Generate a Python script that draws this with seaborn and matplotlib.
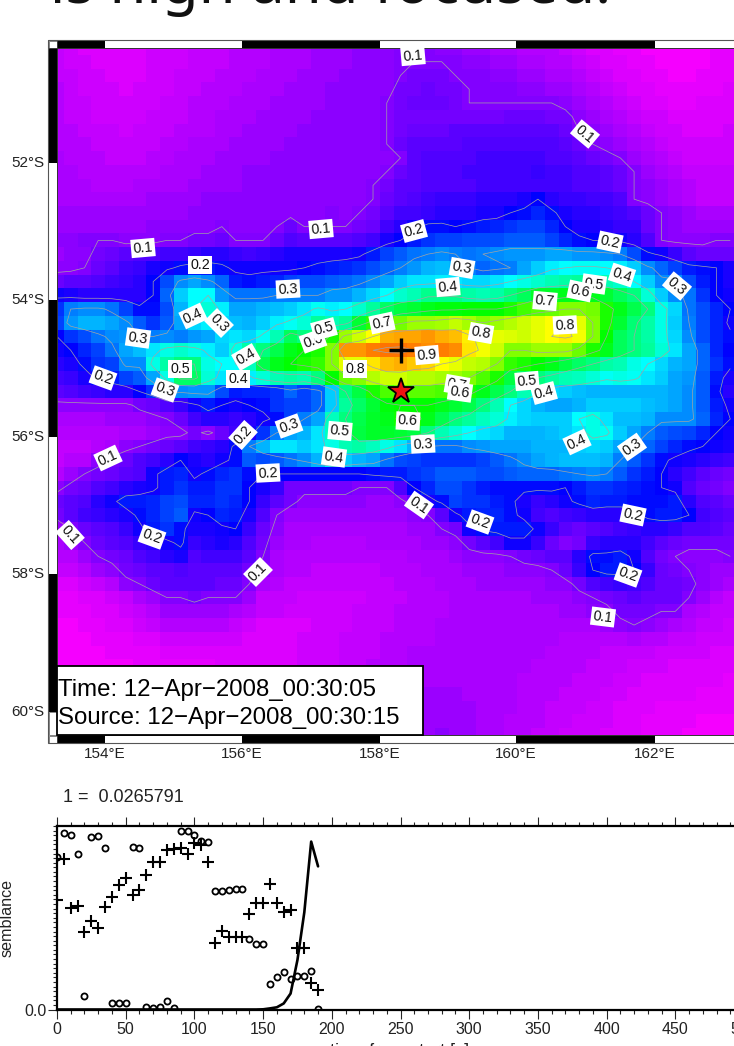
import numpy as np
import matplotlib
matplotlib.use("Agg")
import matplotlib.pyplot as plt
from matplotlib.colors import LinearSegmentedColormap
from matplotlib.patches import Rectangle
from matplotlib.ticker import MultipleLocator
import seaborn as sns

# semblance map, hundredths, one row per 0.2 degrees of latitude (north to south)
r00=[5,4,3,3,3,3,3,4,4,4, 5,5,5,6,6,6,7,7,7,8, 8,8,9,9,9,10,10,10,9,9, 8,8,7,7,6,6,6,5,4,3, 3,2,2,1,1,1,1,1,2,2]
r01=[5,4,4,3,3,3,3,4,4,4, 5,5,5,6,6,6,7,7,7,8, 8,8,9,9,9,10,10,10,10,10, 9,9,8,8,7,7,6,6,5,4, 3,3,2,2,1,1,1,1,2,2]
r02=[5,5,4,4,3,3,3,4,4,5, 5,5,6,6,6,7,7,7,8,8, 8,9,9,9,9,10,11,11,11,10, 10,10,9,9,8,8,7,7,6,5, 4,3,3,2,2,1,1,2,2,2]
r03=[6,5,4,4,4,3,4,4,4,5, 5,6,6,6,7,7,7,8,8,8, 9,9,9,9,9,11,11,12,11,11, 10,10,10,10,9,9,8,8,7,6, 5,4,3,3,2,2,2,2,2,3]
r04=[6,5,5,4,4,4,4,4,5,5, 6,6,6,7,7,7,8,8,8,8, 9,9,9,9,10,11,12,12,12,11, 10,10,10,10,10,10,10,9,8,7, 6,5,4,3,3,2,2,3,3,3]
r05=[6,5,5,4,4,4,4,5,5,5, 6,6,7,7,7,8,8,8,8,9, 9,9,9,9,10,11,11,11,11,11, 11,11,11,12,12,12,11,11,9,8, 7,6,5,4,4,3,3,3,3,3]
r06=[6,6,5,5,5,4,5,5,5,6, 6,6,7,7,8,8,8,8,9,9, 9,9,9,9,10,11,12,12,12,13, 13,13,13,13,13,13,13,12,10,9, 8,7,6,5,4,4,3,3,3,4]
r07=[6,6,6,5,5,5,5,5,6,6, 7,7,7,8,8,8,8,9,9,9, 9,9,9,9,10,12,13,13,13,13, 14,14,14,14,14,14,14,13,12,10, 9,8,7,6,5,4,4,4,4,4]
r08=[7,6,6,6,5,5,5,6,6,7, 7,7,8,8,8,8,9,9,9,9, 9,9,9,9,9,10,13,14,14,14, 14,15,15,15,15,15,14,14,13,12, 11,10,8,7,6,5,4,4,4,4]
r09=[7,7,6,6,6,6,6,6,7,7, 7,8,8,8,9,9,9,9,9,9, 9,9,9,9,10,12,13,14,14,14, 15,15,15,15,15,16,15,15,14,14, 13,12,10,8,7,6,5,5,5,5]
r10=[7,7,7,6,6,6,7,7,7,7, 8,8,8,8,9,9,9,9,9,9, 9,9,9,10,11,13,13,14,14,14, 14,15,15,15,15,15,15,15,14,14, 13,12,10,9,8,7,6,5,5,5]
r11=[7,7,7,7,7,7,7,8,8,8, 8,9,9,9,9,9,9,9,9,9, 9,9,9,10,12,13,14,15,16,16, 16,17,17,17,18,20,17,16,16,15, 15,14,10,9,8,7,6,5,5,5]
r12=[8,8,8,8,8,8,8,8,8,8, 9,9,9,9,9,9,9,9,9,9, 10,9,10,11,13,15,15,16,17,17, 17,18,18,20,21,23,21,18,17,17, 16,15,14,12,10,9,8,7,7,7]
r13=[8,8,8,8,8,8,8,9,9,9, 9,9,10,9,9,9,10,12,10,10, 10,10,11,12,15,17,19,21,21,20, 21,22,23,24,25,25,23,20,18,18, 17,16,16,12,10,9,8,8,8,8]
r14=[9,9,10,10,10,9,9,9,10,10, 11,11,12,10,10,10,12,14,13,13, 13,13,14,15,18,20,22,24,25,25, 26,26,26,27,27,27,25,23,21,20, 20,19,17,14,10,9,9,9,10,10]
r15=[8,9,9,11,12,13,14,14,15,15, 16,17,17,16,15,16,17,18,18,18, 18,18,19,22,25,27,29,30,31,30, 29,30,31,32,32,32,33,33,32,32, 31,30,26,21,19,16,13,12,12,12]
r16=[9,9,10,12,13,15,16,18,19,21, 22,22,21,19,19,19,19,19,20,21, 22,23,24,26,28,30,32,34,35,34, 30,28,29,30,33,36,39,40,41,41, 40,39,36,31,28,25,22,21,20,18]
r17=[12,13,13,14,15,16,17,20,26,31, 33,31,28,22,21,22,23,25,26,26, 27,28,29,31,33,36,38,38,39,38, 37,37,38,40,42,44,46,47,48,47, 46,44,40,36,31,31,26,22,20,18]
r18=[19,18,17,17,17,17,17,20,28,36, 40,40,32,29,29,29,30,30,30,30, 32,32,34,37,40,44,46,49,49,49, 47,46,47,50,53,57,57,58,58,58, 56,53,50,43,36,31,29,24,20,19]
r19=[24,30,31,31,29,25,21,21,26,34, 40,43,39,33,33,34,35,36,38,41, 39,40,44,48,52,55,56,58,59,59, 60,60,60,62,65,67,68,70,70,69, 62,58,54,50,42,37,29,26,23,20]
r20=[25,32,34,34,33,31,27,24,27,33, 37,39,37,35,34,36,39,41,43,48, 46,48,56,63,65,69,72,72,73,75, 73,70,72,74,76,78,80,80,78,70, 62,56,51,47,42,36,30,26,23,19]
r21=[20,24,26,29,31,32,30,30,31,30, 32,33,37,38,37,41,46,53,50,52, 62,72,76,80,86,87,87,88,86,85, 81,78,78,77,76,78,80,81,79,70, 60,53,50,47,42,37,31,26,23,21]
r22=[19,20,23,25,29,33,35,38,42,44, 42,39,36,42,47,50,54,58,60,62, 70,88,88,90,91,91,90,89,90,89, 82,79,76,70,70,72,72,72,68,62, 58,53,50,48,43,38,33,28,23,20]
r23=[17,18,21,24,25,31,31,42,47,50, 50,42,40,40,45,54,58,60,62,64, 70,78,78,82,85,86,84,83,80,78, 75,74,70,64,62,60,58,55,52,50, 47,46,42,40,37,34,33,28,24,21]
r24=[15,16,18,21,22,25,27,33,42,52, 52,43,38,39,39,43,46,47,46,50, 60,68,70,74,76,76,74,74,73,72, 70,66,62,55,52,50,48,46,45,43, 41,42,41,38,36,33,32,27,22,18]
r25=[13,14,15,16,17,17,20,24,33,31, 32,32,26,22,23,23,24,28,25,28, 36,50,55,62,66,68,67,67,66,65, 62,58,54,50,46,41,37,36,35,34, 34,34,34,34,34,33,31,27,21,17]
r26=[9,9,9,9,9,9,11,12,14,16, 19,22,20,19,20,21,24,25,25,28, 36,48,52,56,59,60,60,60,58,56, 54,50,46,40,37,34,33,33,34,36, 36,36,36,35,34,33,31,27,22,19]
r27=[7,7,7,7,8,8,8,9,10,12, 15,17,17,16,17,19,21,25,30,33, 45,50,54,57,58,61,62,58,54,50, 48,45,43,39,37,36,36,36,40,42, 38,35,35,34,31,31,31,28,23,20]
r28=[6,6,6,6,6,7,7,8,9,9, 11,9,12,15,18,24,30,33,34,38, 45,48,55,57,57,56,55,50,46,43, 40,38,37,34,34,34,35,36,38,42, 41,36,33,30,27,26,25,23,20,19]
r29=[5,5,5,6,7,9,10,11,12,13, 15,16,17,21,30,34,38,38,36,38, 42,46,47,45,42,38,34,30,29,29, 31,32,33,33,33,34,34,34,36,37, 36,33,30,28,25,23,21,20,19,18]
r30=[5,6,6,9,11,12,14,15,17,20, 18,17,19,21,27,26,27,29,31,34, 38,36,34,33,29,26,25,24,24,24, 24,25,27,29,31,33,34,35,35,35, 34,30,27,24,21,19,18,17,16,15]
r31=[6,8,10,11,12,13,14,19,22,23, 19,21,23,24,21,20,20,20,20,20, 20,20,20,21,22,22,24,25,27,27, 27,26,26,27,28,28,28,29,30,31, 30,27,24,22,20,17,15,13,12,11]
r32=[9,11,12,14,15,17,18,19,22,24, 22,22,24,24,20,18,16,11,11,11, 11,11,10,10,10,14,20,23,26,26, 24,22,21,21,21,21,21,20,22,24, 24,23,22,21,20,19,14,12,11,10]
r33=[12,13,14,17,19,22,22,23,25,26, 23,23,24,23,20,16,13,11,9,9, 9,9,9,8,8,9,12,18,21,25, 24,24,22,21,18,16,17,19,21,23, 22,22,21,21,21,22,17,14,13,12]
r34=[11,13,15,16,17,18,21,23,25,27, 19,20,23,22,18,14,10,8,8,8, 8,8,8,8,8,8,9,10,13,19, 22,23,23,21,19,15,14,15,16,17, 17,17,19,21,22,22,20,15,14,13]
r35=[8,10,12,13,14,16,19,22,24,21, 18,18,19,20,16,12,9,7,7,7, 7,7,7,7,7,7,8,8,10,11, 19,21,22,22,22,19,16,13,12,13, 14,15,16,17,17,16,14,14,13,12]
r36=[7,8,10,12,13,14,16,17,19,21, 16,17,18,17,14,11,8,7,7,6, 6,6,6,7,7,7,7,8,8,9, 11,13,15,19,19,16,12,10,11,16, 17,17,17,15,13,12,11,11,11,11]
r37=[6,6,8,10,11,12,14,15,17,18, 14,15,15,15,13,10,7,6,6,6, 6,6,6,6,6,6,7,7,7,8, 9,9,9,10,11,12,13,13,17,21, 21,22,19,14,11,10,9,9,9,10]
r38=[5,5,6,8,9,11,12,13,13,14, 13,13,13,13,11,9,7,6,6,5, 5,5,5,5,6,6,6,7,7,7, 8,8,8,9,9,9,10,12,16,20, 22,22,20,16,12,11,10,9,8,8]
r39=[3,3,4,5,6,9,10,12,13,13, 13,13,12,12,10,7,6,5,5,5, 5,5,5,5,5,6,6,6,7,7, 7,8,8,8,8,8,9,9,11,14, 15,16,15,14,12,12,11,9,8,7]
r40=[2,2,3,3,4,5,7,8,10,10, 11,10,10,10,8,5,5,5,4,4, 4,4,4,5,5,5,6,6,6,7, 7,7,7,7,7,8,8,8,9,10, 11,12,13,12,12,12,10,8,6,5]
r41=[2,2,2,3,3,4,5,6,8,8, 8,8,8,7,6,5,5,4,4,4, 4,4,5,5,5,6,6,6,6,7, 7,7,7,7,7,7,7,8,8,9, 9,11,11,11,10,10,7,6,5,5]
r42=[1,1,2,2,3,3,4,5,6,6, 6,6,6,5,4,3,3,3,3,4, 4,4,5,5,5,6,6,6,7,7, 7,7,7,7,7,7,7,7,7,7, 8,9,10,9,8,7,6,5,5,4]
r43=[1,1,1,2,2,2,3,3,4,4, 4,4,4,4,3,3,3,3,4,4, 4,5,5,5,6,6,6,6,7,7, 7,7,7,7,7,7,7,6,6,6, 6,6,7,6,6,5,5,4,4,4]
r44=[1,1,1,1,2,2,2,2,3,3, 3,3,3,3,3,3,3,3,4,4, 4,5,5,5,6,6,7,7,7,7, 7,7,7,7,7,7,6,6,6,6, 5,5,5,5,4,4,4,4,3,3]
r45=[1,1,1,1,1,1,2,2,2,2, 2,2,3,3,3,3,3,3,4,4, 4,5,5,6,6,6,7,7,7,7, 7,7,7,7,7,6,6,6,6,5, 5,5,4,4,4,3,3,3,3,3]
r46=[1,1,1,1,1,1,1,2,2,2, 2,2,3,3,3,3,3,4,4,4, 5,5,6,6,6,7,7,7,7,7, 7,7,7,7,6,6,6,6,5,5, 5,4,4,3,3,3,3,3,3,2]
r47=[1,1,1,1,1,1,1,2,2,2, 2,2,3,3,3,3,4,4,4,5, 5,5,6,6,7,7,7,8,8,8, 7,7,7,7,6,6,6,5,5,5, 4,4,3,3,3,3,3,2,2,2]
r48=[1,1,1,1,1,1,2,2,2,2, 2,3,3,3,3,4,4,4,5,5, 5,6,6,7,7,7,8,8,8,8, 8,7,7,7,6,6,5,5,5,4, 4,3,3,3,2,2,2,2,2,2]
r49=[1,1,1,1,1,2,2,2,2,2, 3,3,3,3,4,4,4,5,5,5, 6,6,6,7,7,8,8,8,8,8, 8,7,7,6,6,6,5,5,4,4, 4,3,3,2,2,2,2,1,1,1]
r50=[1,1,1,2,2,2,2,2,2,3, 3,3,3,4,4,4,5,5,5,6, 6,6,7,7,7,8,8,8,9,8, 8,7,7,6,6,5,5,4,4,4, 3,3,3,2,2,2,1,1,1,1]
semblance_rows = [r00,r01,r02,r03,r04,r05,r06,r07,r08,r09,r10,r11,r12,r13,r14,r15,r16,r17,r18,r19,
                  r20,r21,r22,r23,r24,r25,r26,r27,r28,r29,r30,r31,r32,r33,r34,r35,r36,r37,r38,r39,
                  r40,r41,r42,r43,r44,r45,r46,r47,r48,r49,r50]

contour_levels = [0.1,0.2,0.3,0.4,0.5,0.6,0.7,0.8,0.9]
lon_ticks = ["154°E","156°E","158°E","160°E","162°E"]
lat_ticks = ["52°S","54°S","56°S","58°S","60°S"]
cross_lonlat = (158.31,-54.73)
star_lonlat = (158.31,-55.32)

# contour labels: text, x pixel, y pixel, angle
contour_labels = [
("0.1",413,56,5),("0.1",585,134,-40),("0.1",143,248,5),("0.1",321,229,5),("0.2",414,231,15),
("0.2",610,242,-12),("0.2",200,265,0),("0.3",462,268,-10),("0.4",622,275,-18),("0.3",677,286,-40),
("0.3",288,289,3),("0.5",594,284,-8),("0.6",580,291,-12),("0.4",448,287,5),("0.7",545,301,-5),
("0.4",193,316,25),("0.3",219,323,-45),("0.6",313,341,20),("0.5",324,329,15),("0.7",382,323,12),
("0.8",481,333,-10),("0.8",565,325,3),("0.3",138,338,-8),("0.9",427,355,5),("0.4",246,357,30),
("0.8",355,369,0),("0.5",180,369,0),("0.4",238,379,0),("0.2",103,378,-20),("0.3",165,390,-20),
("0.5",527,381,5),("0.4",544,393,15),("0.7",457,385,-10),("0.6",460,392,-8),("0.6",408,421,-3),
("0.3",423,444,3),("0.5",340,431,-5),("0.4",334,457,-8),("0.3",289,426,20),("0.2",243,435,48),
("0.4",577,442,25),("0.3",632,447,35),("0.1",108,458,25),("0.2",268,473,3),("0.1",419,505,-35),
("0.2",480,522,-20),("0.2",633,515,-12),("0.2",152,537,-20),("0.1",70,535,-48),("0.2",628,575,-20),
("0.1",258,572,45),("0.1",603,617,-7)]

# lower panel
times = [0,5,10,15,20,25,30,35,40,45,50,55,60,65,70,75,80,85,90,95,100,105,110,115,120,125,130,135,140,145,150,155,160,165,170,175,180,185,190]
plus_vals = [.596,.818,.551,.565,.424,.480,.442,.558,.611,.676,.715,.624,.653,.735,.802,.804,.867,.873,.878,.847,.905,.896,.802,.360,.427,.393,.393,.393,.518,.582,.582,.685,.578,.531,.542,.333,.333,.142,.105]
circle_vals = [.829,.964,.949,.849,.073,.942,.944,.878,.038,.035,.038,.887,.878,.015,.009,.013,.044,.009,.973,.975,.951,.920,.913,.645,.647,.653,.655,.655,.385,.358,.358,.138,.175,.202,.167,.184,.184,.211,.002]
line_vals = [0,0,0,0,0,0,0,0,0,0,0,0,0,0,0,0,0,0,0,0,0,0,0,0,0,0,0,0,0,0,.001,.006,.012,.033,.087,.27,.53,.915,.78]
y_tick_label = "0.0"
norm_text = "1 =  0.0265791"

W, H = 734, 1046
sns.set_theme(style="ticks", font="Liberation Sans")
plt.rcParams["font.family"] = ["Liberation Sans", "DejaVu Sans"]
fig = plt.figure(figsize=(W/100, H/100), dpi=100, facecolor="white")

def box(x0, y0, x1, y1):
    return [x0/W, 1-y1/H, (x1-x0)/W, (y1-y0)/H]

cmap = LinearSegmentedColormap.from_list("semb", [(1,0,1),(0,0,1),(0,1,1),(0,1,0),(1,1,0),(1,0,0)])
Z = np.array(semblance_rows)/100.0

ax = fig.add_axes(box(57,48,744,735))
sns.heatmap(Z, vmin=0, vmax=1, cmap=cmap, cbar=False, ax=ax, xticklabels=False, yticklabels=False, rasterized=True)
X = np.arange(Z.shape[1])+0.5
Y = np.arange(Z.shape[0])+0.5
ax.contour(X, Y, Z, levels=contour_levels, colors="#a4a4a4", linewidths=0.5)
ax.set_xlim(0.5, 50.5)
ax.set_ylim(50.5, 0.5)
def lonlat(lon, lat):
    return (lon-153.3)/0.2+0.5, (-lat-50.33)/0.2+0.5
cx, cy = lonlat(*cross_lonlat)
ax.plot([cx],[cy], marker="+", ms=18, mew=2.4, color="black", zorder=6)
sx, sy = lonlat(*star_lonlat)
ax.plot([sx],[sy], marker="*", ms=19, mew=1.3, mfc="#ee1111", mec="black", zorder=6)

ov = fig.add_axes([0,0,1,1], zorder=5)
ov.set_xlim(0,W); ov.set_ylim(H,0); ov.axis("off"); ov.patch.set_alpha(0)

# frame checks
def seg(x0,y0,x1,y1,c):
    ov.add_patch(Rectangle((x0,y0),x1-x0,y1-y0,fc=c,ec="none",zorder=2))
xedges = [57,105,241.5,380,516,655,744]
for y0,y1 in [(40,48),(735,743)]:
    seg(48,y0,57,y1,"white")
    for i in range(len(xedges)-1):
        seg(xedges[i],y0,xedges[i+1],y1,"black" if i%2==0 else "white")
yedges = [48,163,300,437,574,712,735]
for i in range(len(yedges)-1):
    seg(48,yedges[i],57,yedges[i+1],"black" if i%2==0 else "white")
ov.add_patch(Rectangle((48,40),700,703,fc="none",ec="#555555",lw=0.8,zorder=3))
ov.add_patch(Rectangle((48.5,40.5),8,7,fc="none",ec="#555555",lw=0.5,zorder=3))
ov.add_patch(Rectangle((48.5,735.5),8,7,fc="none",ec="#555555",lw=0.5,zorder=3))
ov.add_patch(Rectangle((48.5,712),8,23,fc="none",ec="#555555",lw=0.5,zorder=3))
ov.plot([57,744],[48,48],color="#333333",lw=0.7,zorder=3)
ov.plot([57,744],[735,735],color="#333333",lw=0.7,zorder=3)
ov.plot([57,57],[48,735],color="#333333",lw=0.7,zorder=3)

xt_px = [105,241.5,380,516,655]
yt_px = [163,300,437,574,712]
for s,x in zip(lon_ticks,xt_px):
    ov.text(x,754,s,ha="center",va="center",fontsize=11,color="#222222")
for s,y in zip(lat_ticks,yt_px):
    ov.text(44.5,y,s,ha="right",va="center",fontsize=11,color="#222222")

for s,x,y,a in contour_labels:
    ov.text(x,y,s,ha="center",va="center",rotation=a,rotation_mode="anchor",fontsize=10.3,color="#111111",
            bbox=dict(fc="white",ec="none",pad=1.5),zorder=4)

ov.add_patch(Rectangle((57,666),366,69,fc="white",ec="black",lw=1.3,zorder=5))
ov.text(58,690,"Time: 12\u2212Apr\u22122008_00:30:05",ha="left",va="center",fontsize=17.3,color="black",zorder=6)
ov.text(58,718,"Source: 12\u2212Apr\u22122008_00:30:15",ha="left",va="center",fontsize=17.3,color="black",zorder=6)

ov.text(50,3,"is high and focused.",ha="left",va="baseline",fontsize=43,family="Noto Sans",color="#111111")
ov.text(63,797,norm_text,ha="left",va="center",fontsize=13,color="#222222")
ov.text(7,918,"semblance",rotation=90,ha="center",va="center",fontsize=11.6,color="#222222")
ov.text(400,1043,"time from start [s]",ha="center",va="top",fontsize=13,color="#222222")

# lower panel
ax2 = fig.add_axes(box(57,826,744,1009.5))
sns.lineplot(x=times,y=line_vals,ax=ax2,color="black",lw=1.9,errorbar=None,zorder=3)
sns.scatterplot(x=times,y=plus_vals,ax=ax2,marker="+",s=85,color="black",linewidth=1.5,zorder=4)
ax2.plot(times,circle_vals,ls="none",marker="o",ms=4.4,mfc="none",mec="black",mew=1.3,zorder=4)
ax2.set_xlim(0,500); ax2.set_ylim(0,1)
ax2.xaxis.set_major_locator(MultipleLocator(50))
ax2.xaxis.set_minor_locator(MultipleLocator(10))
ax2.set_yticks([0.0]); ax2.set_yticklabels([y_tick_label])
ax2.yaxis.set_minor_locator(MultipleLocator(0.025))
ax2.tick_params(axis="x",which="major",top=True,bottom=True,length=6.3,width=0.8,labelsize=11.5,pad=2.5,labelcolor="#222222")
ax2.tick_params(axis="x",which="minor",top=True,bottom=True,length=3,width=0.8)
ax2.tick_params(axis="y",which="major",left=True,length=6.3,width=0.8,labelsize=11.5,pad=1.5,labelcolor="#222222")
ax2.tick_params(axis="y",which="minor",left=True,length=3,width=0.8)
for s in ax2.spines.values():
    s.set_linewidth(1.6); s.set_color("black"); s.set_visible(True)
ax2.spines["right"].set_visible(False)
ax2.set_xlabel(""); ax2.set_ylabel("")

fig.savefig("out.png", dpi=100)
